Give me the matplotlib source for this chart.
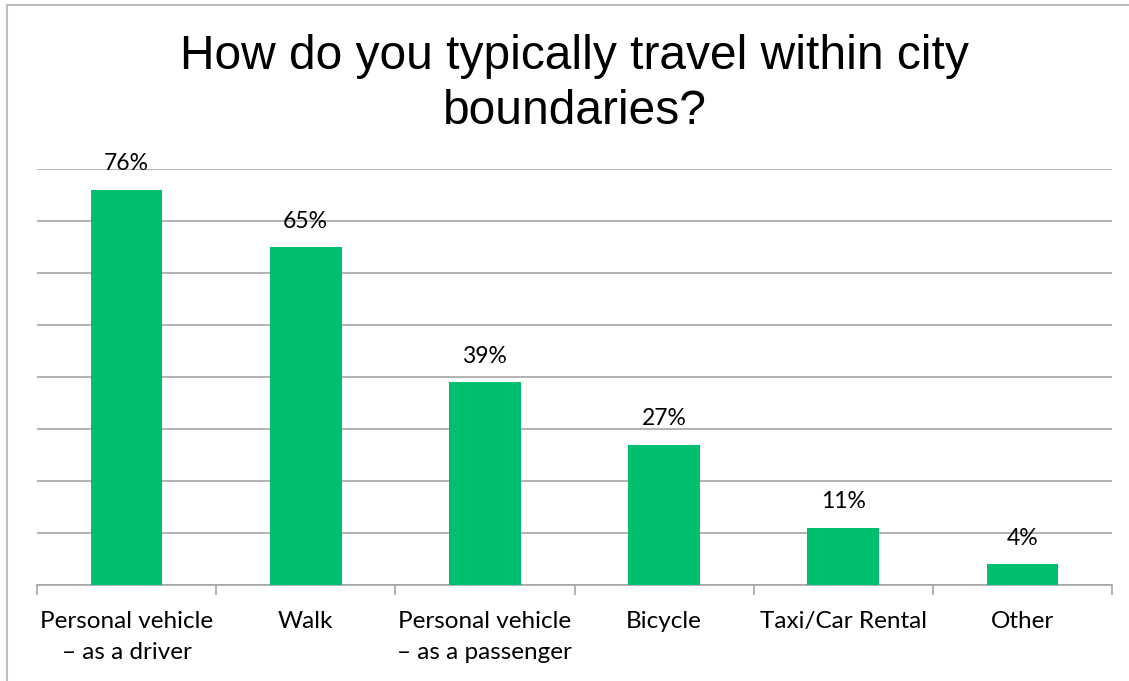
import matplotlib.pyplot as plt
from matplotlib.patches import Rectangle

# survey answers (share of respondents, %)
categories = ["Personal vehicle\n\u2013 as a driver", "Walk",
              "Personal vehicle\n\u2013 as a passenger", "Bicycle",
              "Taxi/Car Rental", "Other"]
shares = [76, 65, 39, 27, 11, 4]

bar_color = "#00BF6F"
grid_color = "#A6A6A6"

fig = plt.figure(figsize=(11.29, 6.81), dpi=100)
ax = fig.add_axes([37 / 1129, 1 - 585 / 681, (1112 - 37) / 1129, (585 - 169) / 681])

x = range(len(categories))
bars = ax.bar(x, shares, width=0.4, color=bar_color, zorder=3)

for b, v in zip(bars, shares):
    ax.text(b.get_x() + b.get_width() / 2, v + 5.0, f"{v}%", ha="center", va="center",
            fontsize=16.5, family="Lato", color="black")

ax.set_xlim(-0.5, len(categories) - 0.5)
ax.set_ylim(0, 80)
ax.set_yticks(range(0, 81, 10))
ax.yaxis.grid(True, color=grid_color, linewidth=1.2, zorder=0)
ax.tick_params(axis="y", left=False, labelleft=False)

ax.set_xticks([i - 0.5 for i in range(len(categories) + 1)], minor=False)
ax.set_xticklabels([])
ax.set_xticks(list(x), minor=True)
ax.set_xticklabels(categories, minor=True, fontsize=17.5, family="Lato",
                   linespacing=1.55)
ax.tick_params(axis="x", which="major", length=7, color=grid_color, width=1.2)
ax.tick_params(axis="x", which="minor", length=0, pad=19)

for side in ["top", "right", "left"]:
    ax.spines[side].set_visible(False)
ax.spines["bottom"].set_color(grid_color)
ax.spines["bottom"].set_linewidth(1.2)

fig.text(0.509, 1 - 84 / 681, "How do you typically travel within city\nboundaries?",
         ha="center", va="center", fontsize=34.5, family="Liberation Sans",
         linespacing=1.27)

# outer frame
fig.patches.append(Rectangle((7 / 1129, -0.05), 1.2, 1 - 5 / 681 + 0.05,
                             transform=fig.transFigure, fill=False,
                             edgecolor="#BFBFBF", linewidth=1.5))

fig.savefig("out.png", dpi=100)
